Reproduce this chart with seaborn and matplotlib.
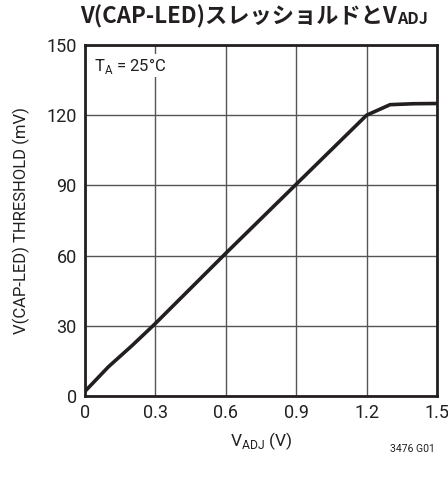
import matplotlib
matplotlib.use("Agg")
import matplotlib.pyplot as plt
import seaborn as sns
import pandas as pd

sns.set_theme(style="white")
plt.rcParams['font.family'] = ['Roboto', 'Noto Sans CJK JP', 'DejaVu Sans']

# data
v_adj = [0.0, 0.1, 0.2, 0.3, 0.6, 0.9, 1.2, 1.3, 1.4, 1.5]
threshold = [2.0, 12.5, 21.5, 31.0, 61.0, 90.5, 120.0, 124.5, 124.9, 125.0]
x_ticks = [0, 0.3, 0.6, 0.9, 1.2, 1.5]
x_labels = ["0", "0.3", "0.6", "0.9", "1.2", "1.5"]
y_ticks = [0, 30, 60, 90, 120, 150]

df = pd.DataFrame({"vadj": v_adj, "thr": threshold})

ink = "#231f20"
fig = plt.figure(figsize=(4.48, 4.83), dpi=100)
ax = fig.add_axes([85/448, 1-396/483, (437-85)/448, (396-45)/483])
sns.lineplot(data=df, x="vadj", y="thr", ax=ax, color=ink, linewidth=2.6, zorder=3)
ax.set_xlim(0, 1.5)
ax.set_ylim(0, 150)
ax.set_xticks(x_ticks)
ax.set_xticklabels(x_labels)
ax.set_yticks(y_ticks)
ax.grid(True, color="#555555", linewidth=1.0)
for s in ax.spines.values():
    s.set_color(ink)
    s.set_linewidth(2.0)
ax.tick_params(axis="both", labelsize=13, colors=ink, length=0, pad=6)
ax.set_xlabel("V$_{\\mathregular{ADJ}}$ (V)", fontsize=12.5, color=ink, labelpad=6)
ax.set_ylabel("V(CAP-LED) THRESHOLD (mV)", fontsize=12, color=ink, labelpad=12)

ax.text(0.025, 0.97, "T$_{\\mathregular{A}}$ = 25°C", transform=ax.transAxes, fontsize=12,
        color=ink, va="top", ha="left",
        bbox=dict(facecolor="white", edgecolor="none", pad=1), zorder=4)

# title in two parts (CJK text + subscript)
tfam = ['Noto Sans CJK JP', 'DejaVu Sans']
t1 = fig.text(0.5, 1-17/483, "V(CAP-LED)スレッショルドとV", fontsize=16, fontweight="bold",
              family=tfam, color=ink, ha="left", va="center")
sub = fig.text(0.5, 0.5, "ADJ", fontsize=11.5, fontweight="bold", family=tfam, color=ink,
               ha="left", va="bottom")
fig.canvas.draw()
b1 = t1.get_window_extent()
b2 = sub.get_window_extent()
total = b1.width + b2.width + 1
start = 254 - total / 2
t1.set_x(start / 448)
sub.set_x((start + b1.width + 1) / 448)
sub.set_y((b1.y0 + 2) / 483)

fig.text(0.97, 1-449/483, "3476 G01", fontsize=7.5, color=ink, ha="right", va="center")

fig.savefig("out.png", dpi=100)
